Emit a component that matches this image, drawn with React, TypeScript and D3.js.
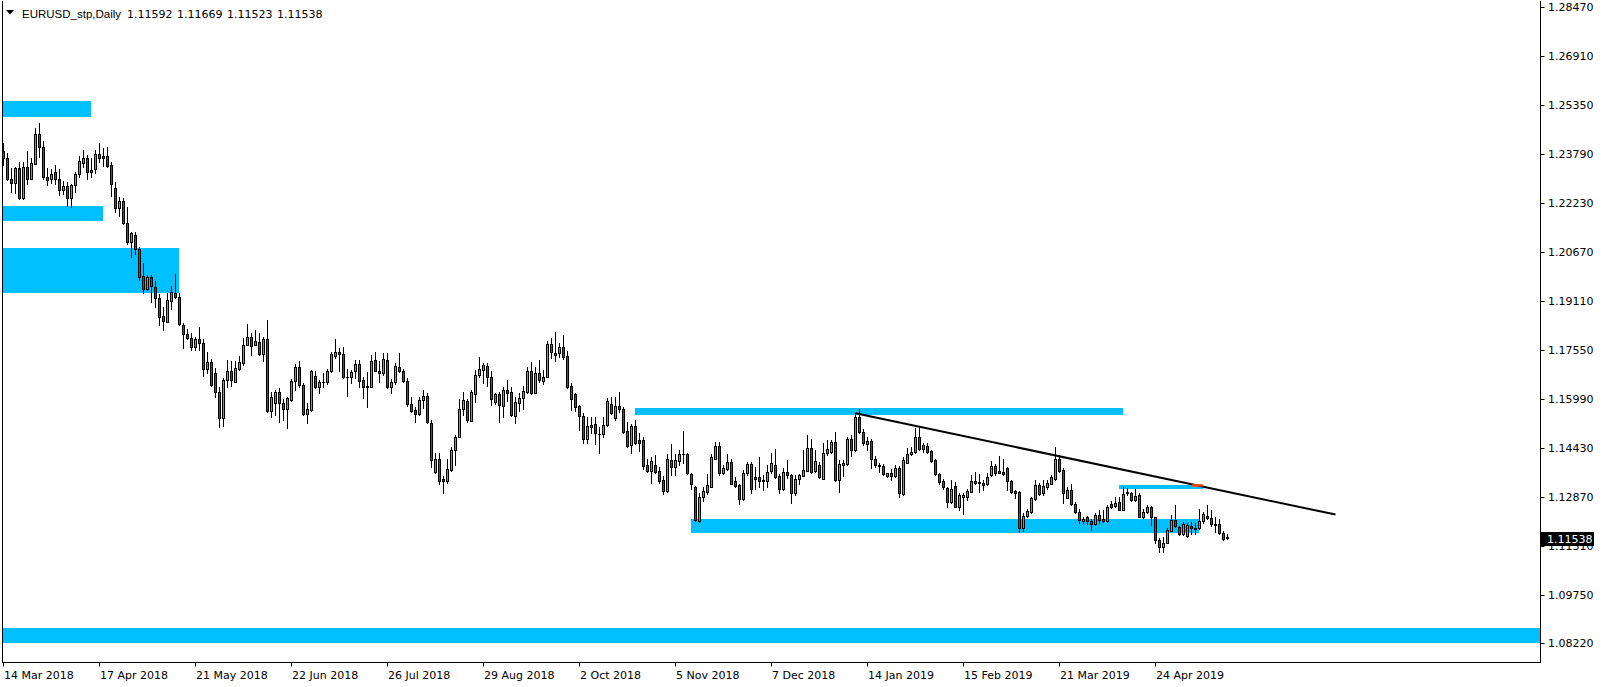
import * as d3 from "d3"

const W = 1604
const H = 687

// EURUSD_stp daily bars, 14 Mar 2018 -> 17 May 2019
const opens = [
	1.2389, 1.2365, 1.2301, 1.2286, 1.2333, 1.2238, 1.2337, 1.2298, 1.2346, 1.2443,
	1.2400, 1.2305, 1.2298, 1.2322, 1.2298, 1.2266, 1.2276, 1.2238, 1.2280, 1.2317,
	1.2351, 1.2365, 1.2328, 1.2330, 1.2379, 1.2373, 1.2373, 1.2344, 1.2270, 1.2206,
	1.2229, 1.2158, 1.2100, 1.2121, 1.2076, 1.1990, 1.1948, 1.1986, 1.1954, 1.1919,
	1.1863, 1.1845, 1.1912, 1.1937, 1.1922, 1.1834, 1.1804, 1.1792, 1.1765, 1.1791,
	1.1778, 1.1693, 1.1717, 1.1680, 1.1621, 1.1537, 1.1659, 1.1688, 1.1652, 1.1693,
	1.1712, 1.1771, 1.1795, 1.1772, 1.1779, 1.1741, 1.1789, 1.1561, 1.1585, 1.1621,
	1.1585, 1.1566, 1.1595, 1.1656, 1.1701, 1.1643, 1.1550, 1.1564, 1.1672, 1.1636,
	1.1653, 1.1651, 1.1686, 1.1734, 1.1748, 1.1742, 1.1668, 1.1667, 1.1686, 1.1710,
	1.1659, 1.1639, 1.1638, 1.1722, 1.1688, 1.1680, 1.1722, 1.1638, 1.1654, 1.1700,
	1.1688, 1.1656, 1.1583, 1.1563, 1.1550, 1.1595, 1.1608, 1.1523, 1.1367, 1.1406,
	1.1342, 1.1338, 1.1372, 1.1436, 1.1476, 1.1568, 1.1592, 1.1529, 1.1614, 1.1674,
	1.1691, 1.1703, 1.1667, 1.1590, 1.1613, 1.1576, 1.1626, 1.1621, 1.1544, 1.1587,
	1.1600, 1.1622, 1.1687, 1.1618, 1.1680, 1.1657, 1.1667, 1.1774, 1.1737, 1.1744,
	1.1763, 1.1735, 1.1640, 1.1614, 1.1576, 1.1544, 1.1472, 1.1510, 1.1519, 1.1487,
	1.1486, 1.1514, 1.1581, 1.1537, 1.1576, 1.1568, 1.1496, 1.1452, 1.1512, 1.1468,
	1.1468, 1.1388, 1.1370, 1.1388, 1.1369, 1.1340, 1.1306, 1.1404, 1.1383, 1.1402,
	1.1423, 1.1423, 1.1359, 1.1317, 1.1210, 1.1285, 1.1303, 1.1319, 1.1408, 1.1448,
	1.1363, 1.1375, 1.1397, 1.1338, 1.1324, 1.1281, 1.1361, 1.1391, 1.1349, 1.1349,
	1.1340, 1.1338, 1.1368, 1.1388, 1.1353, 1.1310, 1.1366, 1.1355, 1.1298, 1.1342,
	1.1354, 1.1370, 1.1441, 1.1369, 1.1388, 1.1344, 1.1425, 1.1428, 1.1461, 1.1339,
	1.1387, 1.1390, 1.1470, 1.1436, 1.1542, 1.1494, 1.1454, 1.1464, 1.1408, 1.1387,
	1.1385, 1.1353, 1.1361, 1.1353, 1.1377, 1.1295, 1.1395, 1.1422, 1.1428, 1.1476,
	1.1440, 1.1448, 1.1434, 1.1404, 1.1359, 1.1337, 1.1315, 1.1271, 1.1321, 1.1255,
	1.1287, 1.1287, 1.1303, 1.1337, 1.1332, 1.1332, 1.1329, 1.1356, 1.1385, 1.1370,
	1.1367, 1.1377, 1.1337, 1.1306, 1.1303, 1.1186, 1.1227, 1.1239, 1.1281, 1.1323,
	1.1298, 1.1317, 1.1329, 1.1342, 1.1408, 1.1372, 1.1284, 1.1308, 1.1264, 1.1239,
	1.1211, 1.1221, 1.1211, 1.1200, 1.1229, 1.1217, 1.1210, 1.1264, 1.1257, 1.1270,
	1.1245, 1.1300, 1.1298, 1.1276, 1.1291, 1.1223, 1.1237, 1.1255, 1.1221, 1.1149,
	1.1126, 1.1140, 1.1179, 1.1213, 1.1189, 1.1167, 1.1162, 1.1194, 1.1186, 1.1186,
	1.1210, 1.1226, 1.1218, 1.1200, 1.1199, 1.1170, 1.11592,
]
const highs = [
	1.2413, 1.2381, 1.2333, 1.2337, 1.2355, 1.2355, 1.2389, 1.2365, 1.2463, 1.2479,
	1.2422, 1.2333, 1.2332, 1.2343, 1.2332, 1.2293, 1.2289, 1.2283, 1.2323, 1.2373,
	1.2392, 1.2376, 1.2365, 1.2392, 1.2415, 1.2399, 1.2402, 1.2355, 1.2290, 1.2243,
	1.2238, 1.2209, 1.2132, 1.2132, 1.2084, 1.2031, 1.1993, 1.1992, 1.1975, 1.1933,
	1.1893, 1.1935, 1.1958, 1.1997, 1.1935, 1.1839, 1.1820, 1.1810, 1.1797, 1.1827,
	1.1789, 1.1749, 1.1725, 1.1696, 1.1636, 1.1664, 1.1723, 1.1721, 1.1718, 1.1734,
	1.1792, 1.1838, 1.1810, 1.1817, 1.1808, 1.1797, 1.1850, 1.1622, 1.1627, 1.1633,
	1.1598, 1.1606, 1.1661, 1.1710, 1.1719, 1.1649, 1.1585, 1.1691, 1.1686, 1.1659,
	1.1680, 1.1695, 1.1749, 1.1789, 1.1761, 1.1763, 1.1693, 1.1691, 1.1723, 1.1723,
	1.1668, 1.1683, 1.1738, 1.1748, 1.1718, 1.1744, 1.1744, 1.1661, 1.1712, 1.1746,
	1.1695, 1.1664, 1.1606, 1.1572, 1.1604, 1.1627, 1.1619, 1.1533, 1.1425, 1.1425,
	1.1353, 1.1406, 1.1446, 1.1483, 1.1597, 1.1621, 1.1598, 1.1627, 1.1691, 1.1731,
	1.1714, 1.1714, 1.1687, 1.1618, 1.1622, 1.1638, 1.1659, 1.1638, 1.1604, 1.1616,
	1.1640, 1.1701, 1.1717, 1.1699, 1.1723, 1.1691, 1.1784, 1.1792, 1.1813, 1.1778,
	1.1802, 1.1752, 1.1648, 1.1618, 1.1579, 1.1555, 1.1542, 1.1542, 1.1542, 1.1510,
	1.1542, 1.1600, 1.1604, 1.1604, 1.1621, 1.1572, 1.1526, 1.1519, 1.1531, 1.1489,
	1.1476, 1.1406, 1.1414, 1.1420, 1.1383, 1.1353, 1.1423, 1.1455, 1.1423, 1.1436,
	1.1496, 1.1427, 1.1363, 1.1321, 1.1298, 1.1317, 1.1359, 1.1423, 1.1462, 1.1462,
	1.1388, 1.1423, 1.1406, 1.1349, 1.1329, 1.1372, 1.1398, 1.1398, 1.1383, 1.1414,
	1.1356, 1.1388, 1.1425, 1.1438, 1.1359, 1.1377, 1.1404, 1.1359, 1.1356, 1.1359,
	1.1436, 1.1483, 1.1470, 1.1436, 1.1398, 1.1457, 1.1468, 1.1468, 1.1494, 1.1404,
	1.1404, 1.1476, 1.1483, 1.1553, 1.1565, 1.1502, 1.1476, 1.1470, 1.1417, 1.1395,
	1.1391, 1.1363, 1.1374, 1.1387, 1.1385, 1.1412, 1.1441, 1.1446, 1.1505, 1.1510,
	1.1459, 1.1457, 1.1436, 1.1406, 1.1361, 1.1342, 1.1319, 1.1340, 1.1335, 1.1300,
	1.1300, 1.1312, 1.1356, 1.1367, 1.1359, 1.1340, 1.1361, 1.1401, 1.1390, 1.1417,
	1.1406, 1.1383, 1.1340, 1.1308, 1.1306, 1.1236, 1.1248, 1.1285, 1.1340, 1.1332,
	1.1340, 1.1340, 1.1356, 1.1444, 1.1420, 1.1377, 1.1317, 1.1328, 1.1271, 1.1247,
	1.1223, 1.1226, 1.1215, 1.1234, 1.1245, 1.1245, 1.1260, 1.1274, 1.1287, 1.1285,
	1.1317, 1.1315, 1.1303, 1.1313, 1.1298, 1.1247, 1.1261, 1.1258, 1.1223, 1.1154,
	1.1160, 1.1186, 1.1229, 1.1261, 1.1194, 1.1206, 1.1202, 1.1206, 1.1202, 1.1247,
	1.1239, 1.1260, 1.1243, 1.1221, 1.1215, 1.1179, 1.11669,
]
const lows = [
	1.2344, 1.2296, 1.2259, 1.2256, 1.2236, 1.2236, 1.2283, 1.2298, 1.2346, 1.2371,
	1.2298, 1.2280, 1.2288, 1.2283, 1.2250, 1.2252, 1.2214, 1.2211, 1.2259, 1.2305,
	1.2337, 1.2298, 1.2305, 1.2320, 1.2355, 1.2341, 1.2339, 1.2245, 1.2195, 1.2181,
	1.2155, 1.2092, 1.2052, 1.2062, 1.1977, 1.1935, 1.1946, 1.1908, 1.1893, 1.1834,
	1.1818, 1.1843, 1.1886, 1.1920, 1.1833, 1.1760, 1.1788, 1.1754, 1.1754, 1.1754,
	1.1672, 1.1680, 1.1641, 1.1604, 1.1508, 1.1513, 1.1638, 1.1640, 1.1651, 1.1691,
	1.1708, 1.1769, 1.1739, 1.1771, 1.1738, 1.1721, 1.1558, 1.1540, 1.1548, 1.1526,
	1.1532, 1.1505, 1.1593, 1.1627, 1.1638, 1.1548, 1.1523, 1.1561, 1.1633, 1.1617,
	1.1638, 1.1646, 1.1683, 1.1730, 1.1686, 1.1664, 1.1608, 1.1649, 1.1664, 1.1638,
	1.1601, 1.1572, 1.1636, 1.1686, 1.1651, 1.1675, 1.1633, 1.1617, 1.1646, 1.1683,
	1.1653, 1.1577, 1.1557, 1.1526, 1.1546, 1.1569, 1.1521, 1.1383, 1.1363, 1.1326,
	1.1298, 1.1332, 1.1369, 1.1388, 1.1476, 1.1547, 1.1526, 1.1528, 1.1590, 1.1669,
	1.1648, 1.1640, 1.1579, 1.1582, 1.1526, 1.1540, 1.1593, 1.1544, 1.1523, 1.1561,
	1.1565, 1.1616, 1.1614, 1.1616, 1.1653, 1.1646, 1.1667, 1.1728, 1.1720, 1.1731,
	1.1725, 1.1634, 1.1563, 1.1561, 1.1499, 1.1459, 1.1459, 1.1489, 1.1455, 1.1427,
	1.1478, 1.1512, 1.1550, 1.1533, 1.1558, 1.1491, 1.1446, 1.1427, 1.1455, 1.1434,
	1.1374, 1.1367, 1.1332, 1.1361, 1.1332, 1.1295, 1.1303, 1.1356, 1.1356, 1.1387,
	1.1393, 1.1359, 1.1313, 1.1210, 1.1207, 1.1274, 1.1295, 1.1317, 1.1406, 1.1355,
	1.1359, 1.1372, 1.1326, 1.1317, 1.1264, 1.1278, 1.1356, 1.1300, 1.1313, 1.1317,
	1.1308, 1.1317, 1.1361, 1.1345, 1.1298, 1.1308, 1.1345, 1.1266, 1.1292, 1.1329,
	1.1353, 1.1369, 1.1361, 1.1367, 1.1345, 1.1342, 1.1420, 1.1425, 1.1337, 1.1303,
	1.1353, 1.1388, 1.1417, 1.1434, 1.1491, 1.1452, 1.1436, 1.1377, 1.1383, 1.1367,
	1.1355, 1.1349, 1.1340, 1.1351, 1.1285, 1.1292, 1.1393, 1.1420, 1.1425, 1.1436,
	1.1430, 1.1427, 1.1398, 1.1356, 1.1329, 1.1313, 1.1253, 1.1268, 1.1253, 1.1244,
	1.1231, 1.1278, 1.1301, 1.1327, 1.1303, 1.1308, 1.1323, 1.1353, 1.1356, 1.1361,
	1.1356, 1.1308, 1.1300, 1.1284, 1.1175, 1.1179, 1.1221, 1.1236, 1.1278, 1.1292,
	1.1292, 1.1313, 1.1326, 1.1340, 1.1367, 1.1268, 1.1282, 1.1261, 1.1234, 1.1204,
	1.1204, 1.1200, 1.1181, 1.1197, 1.1202, 1.1206, 1.1206, 1.1250, 1.1255, 1.1243,
	1.1243, 1.1291, 1.1273, 1.1274, 1.1221, 1.1220, 1.1234, 1.1197, 1.1138, 1.1112,
	1.1112, 1.1138, 1.1177, 1.1189, 1.1164, 1.1164, 1.1158, 1.1168, 1.1168, 1.1183,
	1.1202, 1.1215, 1.1194, 1.1176, 1.1168, 1.1149, 1.11523,
]
const closes = [
	1.2365, 1.2299, 1.2286, 1.2333, 1.2238, 1.2337, 1.2299, 1.2352, 1.2443, 1.2400,
	1.2307, 1.2296, 1.2315, 1.2301, 1.2266, 1.2276, 1.2238, 1.2279, 1.2317, 1.2357,
	1.2365, 1.2323, 1.2323, 1.2379, 1.2367, 1.2367, 1.2341, 1.2283, 1.2206, 1.2229,
	1.2158, 1.2100, 1.2128, 1.2075, 1.1988, 1.1948, 1.1986, 1.1960, 1.1919, 1.1861,
	1.1848, 1.1914, 1.1939, 1.1924, 1.1836, 1.1804, 1.1792, 1.1765, 1.1791, 1.1776,
	1.1693, 1.1717, 1.1644, 1.1622, 1.1537, 1.1659, 1.1688, 1.1659, 1.1696, 1.1717,
	1.1771, 1.1795, 1.1768, 1.1782, 1.1741, 1.1789, 1.1561, 1.1604, 1.1621, 1.1585,
	1.1566, 1.1600, 1.1656, 1.1701, 1.1643, 1.1550, 1.1567, 1.1686, 1.1636, 1.1653,
	1.1651, 1.1689, 1.1742, 1.1748, 1.1741, 1.1667, 1.1667, 1.1685, 1.1710, 1.1657,
	1.1636, 1.1638, 1.1720, 1.1689, 1.1680, 1.1726, 1.1638, 1.1653, 1.1703, 1.1686,
	1.1656, 1.1582, 1.1561, 1.1550, 1.1595, 1.1608, 1.1524, 1.1404, 1.1406, 1.1338,
	1.1338, 1.1374, 1.1436, 1.1478, 1.1568, 1.1595, 1.1531, 1.1621, 1.1674, 1.1693,
	1.1707, 1.1667, 1.1599, 1.1613, 1.1578, 1.1626, 1.1618, 1.1547, 1.1589, 1.1600,
	1.1624, 1.1687, 1.1618, 1.1682, 1.1659, 1.1670, 1.1774, 1.1748, 1.1746, 1.1763,
	1.1733, 1.1638, 1.1599, 1.1574, 1.1545, 1.1472, 1.1512, 1.1515, 1.1489, 1.1487,
	1.1514, 1.1592, 1.1555, 1.1576, 1.1568, 1.1494, 1.1450, 1.1512, 1.1459, 1.1459,
	1.1386, 1.1370, 1.1401, 1.1365, 1.1337, 1.1306, 1.1406, 1.1383, 1.1404, 1.1423,
	1.1422, 1.1361, 1.1327, 1.1213, 1.1287, 1.1306, 1.1324, 1.1414, 1.1448, 1.1363,
	1.1377, 1.1397, 1.1329, 1.1321, 1.1281, 1.1361, 1.1391, 1.1313, 1.1343, 1.1338,
	1.1336, 1.1366, 1.1393, 1.1349, 1.1312, 1.1366, 1.1356, 1.1300, 1.1343, 1.1355,
	1.1371, 1.1441, 1.1366, 1.1401, 1.1349, 1.1426, 1.1438, 1.1461, 1.1339, 1.1391,
	1.1395, 1.1470, 1.1436, 1.1542, 1.1494, 1.1459, 1.1464, 1.1408, 1.1387, 1.1384,
	1.1359, 1.1361, 1.1353, 1.1377, 1.1300, 1.1404, 1.1423, 1.1430, 1.1476, 1.1439,
	1.1452, 1.1430, 1.1401, 1.1358, 1.1335, 1.1317, 1.1271, 1.1312, 1.1255, 1.1292,
	1.1291, 1.1305, 1.1337, 1.1332, 1.1334, 1.1325, 1.1351, 1.1385, 1.1363, 1.1363,
	1.1359, 1.1337, 1.1303, 1.1300, 1.1186, 1.1227, 1.1242, 1.1282, 1.1323, 1.1295,
	1.1321, 1.1332, 1.1349, 1.1408, 1.1370, 1.1298, 1.1308, 1.1264, 1.1239, 1.1213,
	1.1217, 1.1210, 1.1200, 1.1229, 1.1213, 1.1210, 1.1255, 1.1255, 1.1268, 1.1245,
	1.1296, 1.1302, 1.1276, 1.1289, 1.1223, 1.1239, 1.1255, 1.1221, 1.1149, 1.1126,
	1.1138, 1.1181, 1.1213, 1.1194, 1.1167, 1.1199, 1.1196, 1.1186, 1.1185, 1.1210,
	1.1231, 1.1218, 1.1199, 1.1198, 1.1170, 1.1153, 1.11538,
]

// time axis: one label every 24 bars
const dateLabels = [
	"14 Mar 2018", "17 Apr 2018", "21 May 2018", "22 Jun 2018", "26 Jul 2018",
	"29 Aug 2018", "2 Oct 2018", "5 Nov 2018", "7 Dec 2018", "14 Jan 2019",
	"15 Feb 2019", "21 Mar 2019", "24 Apr 2019",
]
const dateLabelBars = [0, 24, 48, 72, 96, 120, 144, 168, 192, 216, 240, 264, 288]

const priceTicks = [
	1.2847, 1.2691, 1.2535, 1.2379, 1.2223, 1.2067, 1.1911,
	1.1755, 1.1599, 1.1443, 1.1287, 1.1131, 1.0975, 1.0822,
]

// supply / demand boxes drawn on the chart (bar index from/to, price hi/lo)
const zoneFrom = [-1, -1, -1, 157.9, 171.9, 278.9, -1]
const zoneTo = [21.9, 24.9, 43.9, 279.9, 298.9, 299.9, 400]
const zoneHi = [1.2548, 1.2213, 1.2080, 1.1570, 1.1215, 1.1324, 1.0869]
const zoneLo = [1.2498, 1.2167, 1.1937, 1.1547, 1.1172, 1.1312, 1.0822]

// trend line through the December high
const trendBars = [213, 333]
const trendPrices = [1.1553, 1.1230]
const markBars = [297.1, 299.9]
const markPrice = 1.1323

const header = "EURUSD_stp,Daily"
const headerValues = ["1.11592", "1.11669", "1.11523", "1.11538"]
const lastPrice = 1.11538

const GREEN = "#2fd12f"
const RED = "#d81616"
const BLUE = "#00bfff"

const App = () => {
	const left = 2.5
	const right = 1540.5
	const top = 0.5
	const bottom = 662.5

	const x = d3.scaleLinear().domain([0, opens.length - 1]).range([3.5, 3.5 + 4 * (opens.length - 1)])
	const y = d3.scaleLinear().domain([1.0822, 1.2847]).range([642.6, 7.2])

	const trend = d3.line<number>()
		.x((_, i) => x(trendBars[i]))
		.y((p) => y(p))

	return (
		<svg
			width={W}
			height={H}
			style={{ position: "fixed", left: 0, top: 0, background: "#fff", display: "block" }}
			fontFamily="'DejaVu Sans', Verdana, sans-serif"
		>
			<defs>
				<clipPath id="plot">
					<rect x={left + 0.5} y={top + 0.5} width={right - left - 1} height={bottom - top - 1} />
				</clipPath>
			</defs>
			<rect x={0} y={0} width={W} height={H} fill="#fff" />

			<g clipPath="url(#plot)">
				{zoneFrom.map((f, i) => (
					<rect
						key={"z" + i}
						x={Math.round(x(f))}
						y={Math.round(y(zoneHi[i]))}
						width={Math.round(x(zoneTo[i])) - Math.round(x(f))}
						height={Math.round(y(zoneLo[i])) - Math.round(y(zoneHi[i]))}
						fill={BLUE}
					/>
				))}

				{opens.map((o, i) => {
					const c = closes[i]
					const px = Math.floor(x(i))
					const bTop = Math.round(y(Math.max(o, c)))
					const bBot = Math.round(y(Math.min(o, c)))
					const bull = c > o
					return (
						<g key={"c" + i}>
							<line
								x1={px + 0.5}
								x2={px + 0.5}
								y1={Math.round(y(highs[i]))}
								y2={Math.round(y(lows[i])) + 1}
								stroke="#000"
							/>
							{bBot - bTop >= 1 ? (
								<rect
									x={px - 0.5}
									y={bTop + 0.5}
									width={2}
									height={bBot - bTop}
									fill={bull ? GREEN : RED}
									stroke="#000"
								/>
							) : (
								<line x1={px - 1} x2={px + 2} y1={bTop + 0.5} y2={bTop + 0.5} stroke="#000" />
							)}
						</g>
					)
				})}

				<path d={trend(trendPrices) || ""} fill="none" stroke="#000" strokeWidth={2} />
				<line
					x1={x(markBars[0])}
					x2={x(markBars[1])}
					y1={y(markPrice)}
					y2={y(markPrice)}
					stroke="#ff4500"
					strokeWidth={2.5}
				/>
			</g>

			{/* frame */}
			<path
				d={`M${left},${top}V${bottom}H${right}V${top}`}
				fill="none"
				stroke="#000"
				shapeRendering="crispEdges"
			/>

			{/* price scale */}
			{priceTicks.map((p) => {
				const ty = Math.round(y(p)) + 0.5
				return (
					<g key={"p" + p}>
						<line x1={right} x2={right + 4} y1={ty} y2={ty} stroke="#000" />
						<text x={1548} y={ty} dominantBaseline="central" fontSize={11} fill="#000">
							{p.toFixed(5)}
						</text>
					</g>
				)
			})}

			{/* current price tag */}
			<rect x={1541} y={Math.round(y(lastPrice)) - 6} width={53} height={14} fill="#000" />
			<text x={1547} y={Math.round(y(lastPrice)) + 1} dominantBaseline="central" fontSize={11} fill="#fff">
				{lastPrice.toFixed(5)}
			</text>

			{/* time scale */}
			{dateLabels.map((d, i) => {
				const tx = Math.floor(x(dateLabelBars[i])) + 0.5
				return (
					<g key={"d" + i}>
						<line x1={tx} x2={tx} y1={bottom} y2={bottom + 4} stroke="#000" />
						<text x={tx + 0.5} y={679} fontSize={11} fill="#000">
							{d}
						</text>
					</g>
				)
			})}

			{/* header */}
			<path d="M6,10H14L10,14.5Z" fill="#000" />
			<text x={22} y={17.5} fontSize={11.5} fontFamily="'Liberation Sans', Arial, sans-serif" fill="#000">
				{header}
			</text>
			{headerValues.map((v, i) => (
				<text key={"h" + i} x={127 + 50 * i} y={17.5} fontSize={11} fill="#000">
					{v}
				</text>
			))}
		</svg>
	)
}

export default App
